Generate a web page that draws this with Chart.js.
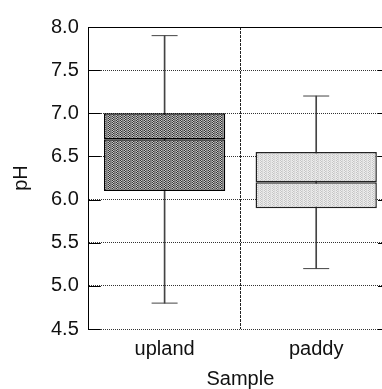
<!DOCTYPE html>
<html>
<head>
<meta charset="utf-8">
<script src="https://cdn.jsdelivr.net/npm/chart.js@4/dist/chart.umd.min.js"></script>
<style>
  html, body { margin: 0; padding: 0; background: #fff; overflow: hidden; }
  #wrap { width: 406px; height: 389px; }
</style>
</head>
<body>
<div id="wrap"><canvas id="boxChart"></canvas></div>
<script>
const categories = ['upland', 'paddy'];
const whiskerLow = [4.8, 5.2];
const q1 = [6.1, 5.9];
const median = [6.7, 6.2];
const q3 = [7.0, 6.55];
const whiskerHigh = [7.9, 7.2];

function makePattern(colors) {
    // colors: rows of pixel colours for a small tile
    const c = document.createElement('canvas');
    c.width = colors[0].length;
    c.height = colors.length;
    const g = c.getContext('2d');
    colors.forEach((row, y) => row.forEach((col, x) => {
        g.fillStyle = col;
        g.fillRect(x, y, 1, 1);
    }));
    return g.createPattern(c, 'repeat');
}

const darkFill = makePattern([
    ['#333', '#c8c8c8', '#7a7a7a', '#8a8a8a'],
    ['#c8c8c8', '#333', '#7a7a7a', '#8a8a8a']
]);
const lightFill = makePattern([
    ['#c4c4c4', '#eee', '#d8d8d8', '#e6e6e6'],
    ['#eee', '#c4c4c4', '#d8d8d8', '#e6e6e6']
]);
const fills = [darkFill, lightFill];
const edges = ['#000', '#222'];

const lower = categories.map((c, i) => [q1[i], median[i]]);
const upper = categories.map((c, i) => [median[i], q3[i]]);
const whisker = categories.map((c, i) => [whiskerLow[i], whiskerHigh[i]]);

// inward tick marks and the solid top frame line
const frameTicks = {
    id: 'frameTicks',
    afterDatasetsDraw(chart) {
        const { ctx, chartArea } = chart;
        const y = chart.scales.y;
        ctx.save();
        ctx.strokeStyle = '#000';
        ctx.lineWidth = 1;
        ctx.beginPath();
        y.ticks.forEach(t => {
            const py = Math.round(y.getPixelForValue(t.value)) + 0.5;
            ctx.moveTo(chartArea.left, py);
            ctx.lineTo(chartArea.left + 12, py);
            ctx.moveTo(chartArea.right - 14, py);
            ctx.lineTo(chartArea.right, py);
        });
        const top = Math.round(chartArea.top) + 0.5;
        ctx.moveTo(chartArea.left, top);
        ctx.lineTo(chartArea.right, top);
        ctx.stroke();
        ctx.restore();
    }
};

Chart.defaults.font.family = '"Liberation Sans", Arial, sans-serif';
Chart.defaults.font.size = 20;
Chart.defaults.color = '#111';

new Chart(document.getElementById('boxChart'), {
    data: {
        labels: categories,
        datasets: [
            {
                type: 'bar',
                data: upper,
                backgroundColor: fills,
                borderColor: edges,
                borderWidth: 1.5,
                borderSkipped: false,
                grouped: false,
                barPercentage: 0.8,
                categoryPercentage: 1
            },
            {
                type: 'bar',
                data: lower,
                backgroundColor: fills,
                borderColor: edges,
                borderWidth: 1.5,
                borderSkipped: false,
                grouped: false,
                barPercentage: 0.8,
                categoryPercentage: 1
            },
            {
                type: 'line',
                data: whiskerHigh,
                showLine: false,
                pointStyle: 'line',
                pointRadius: 13,
                pointBorderWidth: 1,
                pointBorderColor: '#444'
            },
            {
                type: 'line',
                data: whiskerLow,
                showLine: false,
                pointStyle: 'line',
                pointRadius: 13,
                pointBorderWidth: 1,
                pointBorderColor: '#444'
            },
            {
                type: 'bar',
                data: whisker,
                backgroundColor: '#444',
                borderWidth: 0,
                grouped: false,
                barThickness: 1
            }
        ]
    },
    options: {
        responsive: true,
        maintainAspectRatio: false,
        animation: false,
        layout: { padding: { left: 5, top: 27, right: 2, bottom: 0 } },
        plugins: {
            legend: { display: false },
            tooltip: { enabled: false }
        },
        scales: {
            x: {
                type: 'category',
                offset: true,
                grid: {
                    offset: true,
                    drawTicks: false,
                    color: '#222'
                },
                border: { display: false, dash: [3, 1] },
                ticks: { padding: 8 },
                title: {
                    display: true,
                    text: 'Sample',
                    font: { lineHeight: 1.0 },
                    padding: { top: 0, bottom: 0 }
                }
            },
            y: {
                min: 4.5,
                max: 8.0,
                grid: {
                    drawTicks: false,
                    color: '#333'
                },
                border: { display: true, color: '#000', width: 1, dash: [1, 1] },
                ticks: {
                    stepSize: 0.5,
                    padding: 10,
                    callback: v => v.toFixed(1)
                },
                title: {
                    display: true,
                    text: 'pH',
                    padding: { top: 4, bottom: 8 }
                }
            }
        }
    },
    plugins: [frameTicks]
});
</script>
</body>
</html>
